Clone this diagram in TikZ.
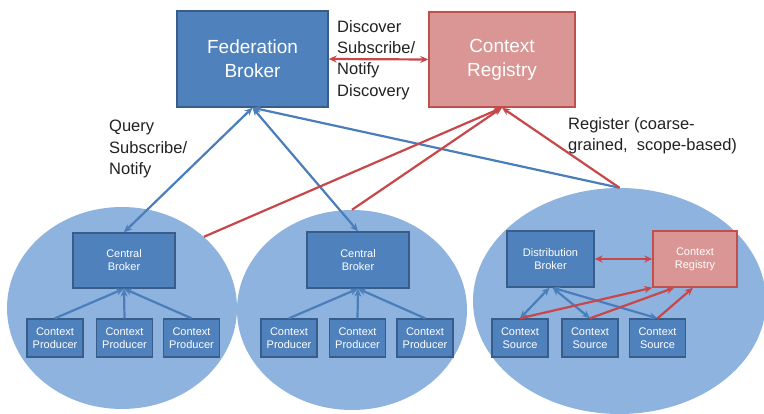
\documentclass[tikz,border=0pt]{standalone}
\usepackage{fontspec}
\setmainfont{Liberation Sans}
\usetikzlibrary{arrows.meta,shapes.geometric}

\definecolor{boxblue}{HTML}{4F81BD}
\definecolor{boxblueline}{HTML}{385D8A}
\definecolor{cloud}{HTML}{8FB3DF}
\definecolor{regfill}{HTML}{D99694}
\definecolor{regline}{HTML}{C0504D}
\definecolor{linkblue}{HTML}{4A7EBB}
\definecolor{linkred}{HTML}{C8474A}
\definecolor{labeltext}{HTML}{222222}

\tikzset{
  brokerzone/.style={ellipse, fill=cloud, draw=none, inner sep=0pt},
  bluebox/.style={rectangle, fill=boxblue, draw=boxblueline, line width=1.4pt,
    text=white, align=center, inner sep=0pt},
  regbox/.style={rectangle, fill=regfill, draw=regline, line width=1.4pt,
    text=white, align=center, inner sep=0pt},
  bigtext/.style={font=\fontsize{19}{24}\selectfont},
  smalltext/.style={font=\fontsize{11}{13}\selectfont},
  leaf/.style={bluebox, smalltext, minimum width=56pt, minimum height=38pt},
  lbl/.style={align=left, inner sep=0pt, text=labeltext,
    font=\fontsize{16.5}{21.3}\selectfont},
  barrow/.style={draw=linkblue, line width=2.2pt,
    >={Stealth[length=8pt,width=7pt]}},
  rarrow/.style={draw=linkred, line width=2.2pt,
    >={Stealth[length=8pt,width=7pt]}},
}

\begin{document}
\begin{tikzpicture}[x=1pt,y=-1pt]
\useasboundingbox (0,0) rectangle (764,414);
\fill[white] (0,0) rectangle (764,414);

% three broker domains
\node[brokerzone, minimum width=230pt, minimum height=202pt] (e1) at (122,308) {};
\node[brokerzone, minimum width=230pt, minimum height=200pt] (e2) at (352,310) {};
\node[brokerzone, minimum width=293pt, minimum height=226pt] (e3) at (619.5,301) {};

% federation level
\node[bluebox, bigtext, minimum width=151pt, minimum height=96pt] (fed) at (252.5,59) {Federation\\Broker};
\node[regbox, bigtext, minimum width=146pt, minimum height=95pt] (reg) at (502,59.5) {Context\\Registry};

% first domain
\node[bluebox, smalltext, minimum width=102pt, minimum height=55pt] (cb1) at (124,260.5) {Central\\Broker};
\node[leaf] (p1) at (55,338) {Context\\Producer};
\node[leaf] (p2) at (124.5,338) {Context\\Producer};
\node[leaf] (p3) at (191.5,338) {Context\\Producer};

% second domain
\node[bluebox, smalltext, minimum width=102pt, minimum height=56pt] (cb2) at (358,260) {Central\\Broker};
\node[leaf] (p4) at (289,338) {Context\\Producer};
\node[leaf] (p5) at (357.5,338) {Context\\Producer};
\node[leaf] (p6) at (425,338) {Context\\Producer};

% third domain
\node[bluebox, smalltext, minimum width=87pt, minimum height=56pt] (db) at (550.5,259) {Distribution\\Broker};
\node[regbox, smalltext, minimum width=84pt, minimum height=56pt] (reg2) at (695,259) {Context\\Registry};
\node[leaf] (s1) at (520,338) {Context\\Source};
\node[leaf] (s2) at (590,338) {Context\\Source};
\node[leaf] (s3) at (657.5,338) {Context\\Source};

% labels
\node[lbl, anchor=north west] (lab1) at (337,20) {Discover\\Subscribe/\\Notify\\Discovery};
\node[lbl, anchor=north west] (lab2) at (109,120) {Query\\Subscribe/\\Notify};
\node[lbl, anchor=north west] (lab3) at (568,117) {Register (coarse-\\grained,\ \ scope-based)};

% federation broker links
\draw[barrow, <->] (fed.south) -- (cb1.north);
\draw[barrow, <->] (fed.south) -- (cb2.north);
\draw[barrow, <-] (fed.south) -- (e3.north);

% registry links
\draw[rarrow, <->] (fed.east) -- (reg.west);
\draw[rarrow, <-] (reg.south) -- (e1.41);
\draw[rarrow, <-] (reg.south) -- (e2.north);
\draw[rarrow, <-] (reg.south) -- (e3.north);

% producers feeding the central brokers
\foreach \p in {p1,p2,p3} \draw[barrow, ->] (\p.north) -- (cb1.south);
\foreach \p in {p4,p5,p6} \draw[barrow, ->] (\p.north) -- (cb2.south);

% sources and distribution broker
\draw[barrow, <->] (s1.north) -- ([xshift=-1pt]db.south);
\draw[barrow, <->] (s2.north) -- ([xshift=2pt]db.south);
\draw[barrow, <->] (s3.north) -- ([xshift=2pt]db.south);
\draw[rarrow, <->] (db.east) -- (reg2.west);
\draw[rarrow, ->] (s1.north) -- (reg2.south west);
\draw[rarrow, ->] (s2.north) -- ([xshift=22pt]reg2.south west);
\draw[rarrow, ->] (s3.north) -- ([xshift=-2pt]reg2.south);
\end{tikzpicture}
\end{document}
